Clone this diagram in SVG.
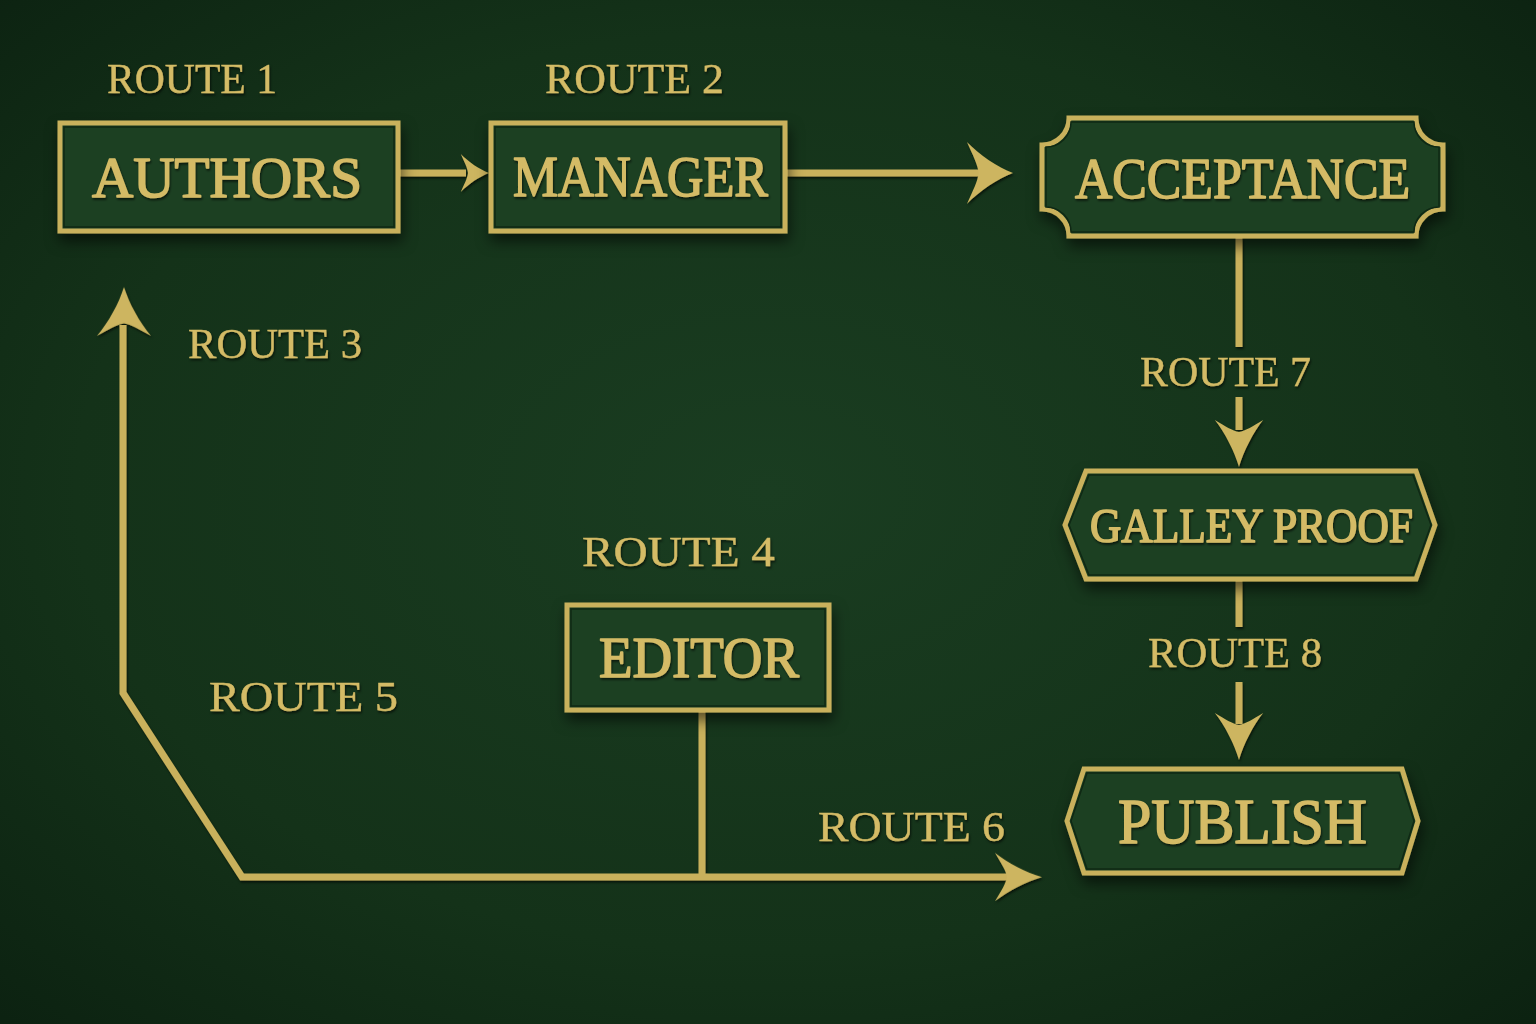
<svg xmlns="http://www.w3.org/2000/svg" xmlns:xlink="http://www.w3.org/1999/xlink" width="1536" height="1024" viewBox="0 0 1536 1024">
<defs>
<radialGradient id="bg" cx="50%" cy="48%" r="75%">
<stop offset="0" stop-color="#1a3d21"/>
<stop offset="0.6" stop-color="#143219"/>
<stop offset="1" stop-color="#0b2010"/>
</radialGradient>
<filter id="sh" x="-20%" y="-30%" width="140%" height="170%">
<feDropShadow dx="2" dy="8" stdDeviation="7" flood-color="#000" flood-opacity="0.55"/>
</filter>
<filter id="tsh" x="-10%" y="-30%" width="120%" height="160%">
<feDropShadow dx="1" dy="2" stdDeviation="1" flood-color="#000" flood-opacity="0.6"/>
</filter>
<path id="ah" d="M0,0 C-16,-5 -34,-15 -47,-26 C-41,-15 -36,-7 -35,0 C-36,7 -41,15 -47,26 C-34,15 -16,5 0,0 Z"/>
<style>
.node{fill:#1a3f22;stroke:#c9b15c;stroke-width:5}
.inner{fill:none;stroke:#0f2814;stroke-width:1.5}
.ntxt{font-family:"Liberation Serif","DejaVu Serif",serif;font-weight:normal;fill:#d4bb66;stroke:#d4bb66;stroke-width:1.6;stroke-linejoin:round}
.lbl{font-family:"Liberation Serif","DejaVu Serif",serif;font-size:42px;fill:#d4bb66;stroke:#d4bb66;stroke-width:0.4}
.ln{fill:none;stroke:#c9b15c;stroke-width:7;stroke-linejoin:miter}
.ahd{fill:#cdb560}
</style>
</defs>
<rect width="1536" height="1024" fill="url(#bg)"/>

<g id="connectors" filter="url(#tsh)">
<path class="ln" d="M399,173 H466"/>
<use href="#ah" class="ahd" transform="translate(489,173) scale(0.6,0.73)"/>
<path class="ln" d="M786,173 H982"/>
<use href="#ah" class="ahd" transform="translate(1013,173) scale(0.98,1.19)"/>
<path class="ln" d="M1239,238 V347"/>
<path class="ln" d="M1239,397 V430"/>
<use href="#ah" class="ahd" transform="translate(1239,467) rotate(90) scale(1,0.93)"/>
<path class="ln" d="M1239,581 V627"/>
<path class="ln" d="M1239,682 V724"/>
<use href="#ah" class="ahd" transform="translate(1239,760) rotate(90) scale(1,0.93)"/>
<path class="ln" d="M702,712 V877"/>
<path class="ln" d="M1008,877 H242 L123,693 V325"/>
<use href="#ah" class="ahd" transform="translate(1042,877) scale(1,0.93)"/>
<use href="#ah" class="ahd" transform="translate(124,287) rotate(-90) scale(1.04,1.04)"/>
</g>

<g id="labels" filter="url(#tsh)">
<text class="lbl" x="107" y="93" textLength="170" lengthAdjust="spacingAndGlyphs">ROUTE 1</text>
<text class="lbl" x="545" y="93" textLength="179" lengthAdjust="spacingAndGlyphs">ROUTE 2</text>
<text class="lbl" x="188" y="358" textLength="174" lengthAdjust="spacingAndGlyphs">ROUTE 3</text>
<text class="lbl" x="582" y="566" textLength="193" lengthAdjust="spacingAndGlyphs">ROUTE 4</text>
<text class="lbl" x="209" y="711" textLength="189" lengthAdjust="spacingAndGlyphs">ROUTE 5</text>
<text class="lbl" x="818" y="841" textLength="187" lengthAdjust="spacingAndGlyphs">ROUTE 6</text>
<text class="lbl" x="1140" y="386" textLength="171" lengthAdjust="spacingAndGlyphs">ROUTE 7</text>
<text class="lbl" x="1148" y="667" textLength="174" lengthAdjust="spacingAndGlyphs">ROUTE 8</text>
</g>

<g id="authors">
<rect class="node" x="60" y="123" width="338" height="108" filter="url(#sh)"/>
<rect class="inner" x="64" y="127" width="330" height="100"/>
<text class="ntxt" x="92" y="197" font-size="58" textLength="270" lengthAdjust="spacingAndGlyphs" filter="url(#tsh)">AUTHORS</text>
</g>

<g id="manager">
<rect class="node" x="491" y="123" width="294" height="108" filter="url(#sh)"/>
<rect class="inner" x="495" y="127" width="286" height="100"/>
<text class="ntxt" x="513" y="196" font-size="57" textLength="255" lengthAdjust="spacingAndGlyphs" filter="url(#tsh)">MANAGER</text>
</g>

<g id="acceptance">
<path class="node" filter="url(#sh)" d="M1069,118 H1416 A27,27 0 0 0 1443,145 V209 A27,27 0 0 0 1416,236 H1069 A27,27 0 0 0 1042,209 V145 A27,27 0 0 0 1069,118 Z"/>
<path class="inner" d="M1071,122 H1414 A25,25 0 0 0 1439,147 V207 A25,25 0 0 0 1414,232 H1071 A25,25 0 0 0 1046,207 V147 A25,25 0 0 0 1071,122 Z"/>
<text class="ntxt" x="1075" y="198" font-size="57" textLength="335" lengthAdjust="spacingAndGlyphs" filter="url(#tsh)">ACCEPTANCE</text>
</g>

<g id="galley-proof">
<path class="node" filter="url(#sh)" d="M1086,471 H1416 L1435,525 L1416,579 H1086 L1065,525 Z"/>
<path class="inner" d="M1089,475 H1413 L1431,525 L1413,575 H1089 L1069,525 Z"/>
<text class="ntxt" x="1090" y="542" font-size="48" textLength="323" lengthAdjust="spacingAndGlyphs" filter="url(#tsh)">GALLEY PROOF</text>
</g>

<g id="publish">
<path class="node" filter="url(#sh)" d="M1084,769 H1402 L1418,821 L1402,873 H1084 L1067,821 Z"/>
<path class="inner" d="M1087,773 H1399 L1414,821 L1399,869 H1087 L1071,821 Z"/>
<text class="ntxt" x="1118" y="843" font-size="64" textLength="249" lengthAdjust="spacingAndGlyphs" filter="url(#tsh)">PUBLISH</text>
</g>

<g id="editor">
<rect class="node" x="567" y="605" width="262" height="105" filter="url(#sh)"/>
<rect class="inner" x="571" y="609" width="254" height="97"/>
<text class="ntxt" x="599" y="677" font-size="58" textLength="200" lengthAdjust="spacingAndGlyphs" filter="url(#tsh)">EDITOR</text>
</g>
</svg>
